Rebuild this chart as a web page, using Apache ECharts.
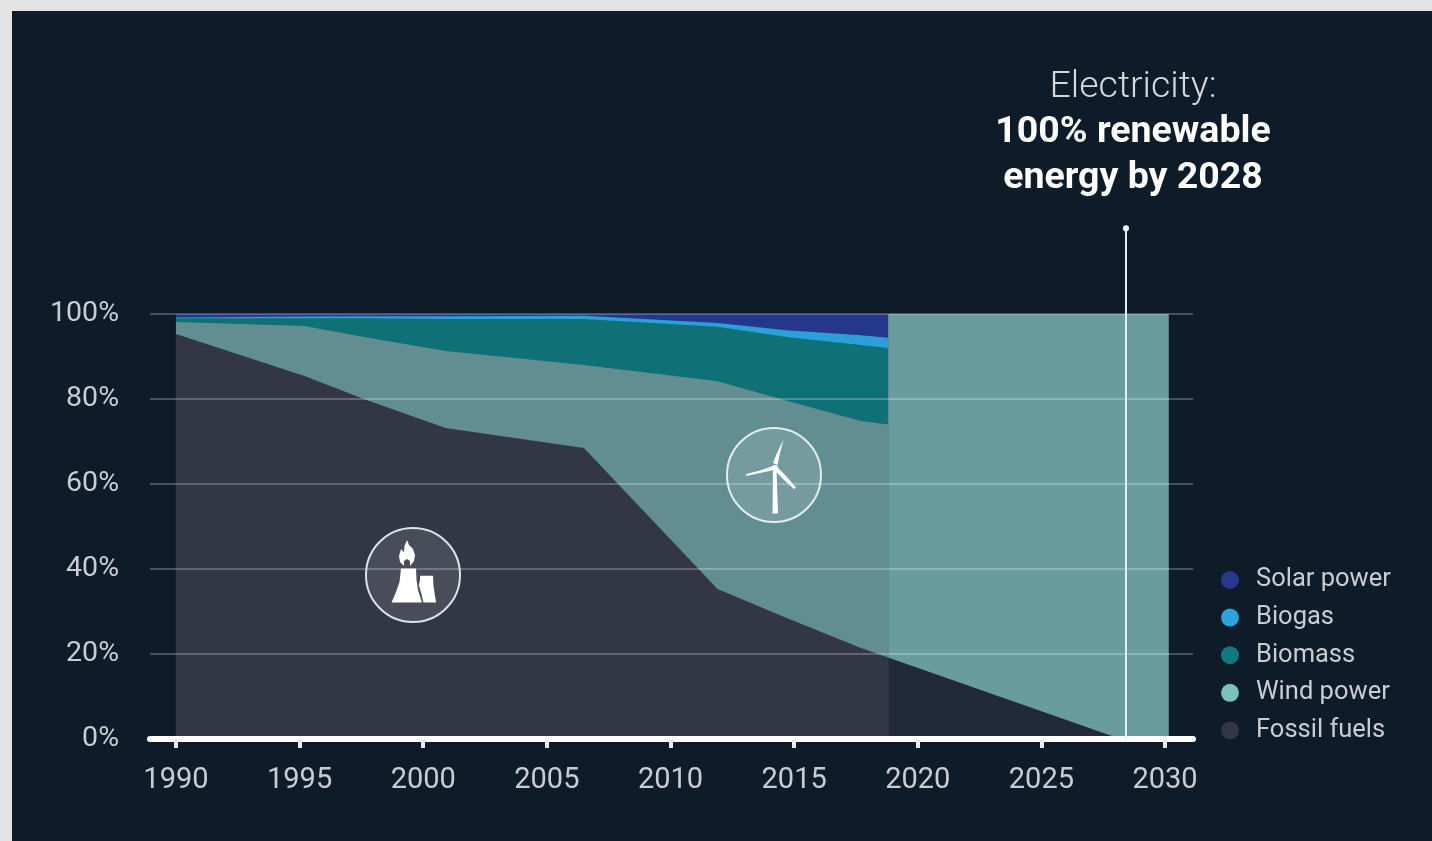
<!DOCTYPE html>
<html><head><meta charset="utf-8">
<style>
html,body{margin:0;padding:0;width:1432px;height:841px;background:#e4e4e4;overflow:hidden}
#panel{position:absolute;left:12px;top:11px;right:0;bottom:0;background:#0e1b28}
#chart{position:absolute;left:0;top:0;width:1432px;height:841px}
</style></head><body>
<div id="panel"></div><div id="chart"></div>
<script src="https://cdn.jsdelivr.net/npm/echarts@6/dist/echarts.min.js"></script>
<script>
const tickYears = [1990,1995,2000,2005,2010,2015,2020,2025,2030];
const historyYears = [1990,1995.2,1997.6,2000.9,2006.5,2011.9,2014.7,2017.7,2018.8];
const fossilHistory = [95.3,85.4,80,73.2,68.5,35.3,28.5,21.4,19.2];
const windHistory = [2.8,11.8,14.6,18.1,19.5,48.9,51.1,53.4,54.8];
const biomassHistory = [0.9,1.8,4.4,7.5,10.8,12.8,15,17.9,18];
const biogasHistory = [0.2,0.4,0.5,0.7,0.8,0.9,1.6,2.3,2.4];
const solarHistory = [0.8,0.6,0.5,0.5,0.4,2.1,3.8,5,5.6];
const futureYears = [2018.8,2023.3,2028.2,2030.15];
const fossilFuture = [19.2,10,0,0];
const windFuture = [80.8,90,100,100];
const targetYear = [2028.42,2028.42];
const targetValue = [0,120.2];
const legendNames = ['Solar power','Biogas','Biomass','Wind power','Fossil fuels'];
const legendColors = ['#26398f','#2ba3de','#0f7a7e','#7cc2ba','#333645'];

const font = 'Roboto';
// Running totals: each band is painted from the axis up to its cumulative top,
// tallest first, so the shares read as a stack on the numeric year axis.
const cumulate = layers => layers.map((_,k)=>layers[0].map((_,i)=>{
  let s = 0; for (let j=0;j<=k;j++) s += layers[j][i]; return +s.toFixed(2);
}));
const zipXY = (x,y) => x.map((v,i)=>[v,y[i]]);
const area = (name,x,y,color,z) => ({
  name, type:'line', data:zipXY(x,y), symbol:'none', showSymbol:false, z,
  lineStyle:{width:0}, itemStyle:{color}, areaStyle:{color,opacity:1}
});
const hist = cumulate([fossilHistory,windHistory,biomassHistory,biogasHistory,solarHistory]);
const fut = cumulate([fossilFuture,windFuture]);

const chart = echarts.init(document.getElementById('chart'));
chart.setOption({
  animation:false,
  backgroundColor:'transparent',
  title:{
    text:'Electricity:', left:1133, top:66, textAlign:'center', itemGap:0, padding:0,
    textStyle:{fontFamily:font,fontWeight:300,fontSize:37.5,color:'#d5d9dd',lineHeight:44},
    subtext:'100% renewable\nenergy by 2028',
    subtextStyle:{fontFamily:font,fontWeight:700,fontSize:37.5,color:'#ffffff',lineHeight:46,align:'center'}
  },
  grid:{left:150,top:314,width:1043,height:425,containLabel:false},
  xAxis:{
    type:'value', min:1988.95, max:2031.13, z:5,
    splitLine:{show:false},
    axisLine:{show:true,lineStyle:{color:'#ffffff',width:6}},
    axisTick:{show:true,length:9,customValues:tickYears,lineStyle:{color:'#e8ecee',width:4}},
    axisLabel:{show:true,customValues:tickYears,margin:27,fontFamily:font,fontSize:29,color:'#c9cdd3',
      formatter:v=>String(Math.round(v))}
  },
  yAxis:{
    type:'value', min:0, max:100, interval:20, z:4,
    axisLine:{show:false}, axisTick:{show:false},
    splitLine:{show:true,lineStyle:{color:'rgba(255,255,255,0.32)',width:1.5}},
    axisLabel:{margin:31,fontFamily:font,fontSize:28.5,color:'#c9cdd3',formatter:'{value}%'}
  },
  legend:{
    data:legendNames.map((n,i)=>({name:n,icon:'circle',itemStyle:{color:legendColors[i],opacity:1}})),
    orient:'vertical', left:1221, top:567, itemWidth:18, itemHeight:18, itemGap:11.6,
    selectedMode:false, padding:0,
    textStyle:{fontFamily:font,fontSize:25.5,color:'#c9cdd3',padding:[0,0,0,12],lineHeight:24}
  },
  series:[
    area('Solar power',historyYears,hist[4],'#25378a',2),
    area('Biogas',historyYears,hist[3],'#2a9fd8',2),
    area('Biomass',historyYears,hist[2],'#0f7176',2),
    area('Wind power',historyYears,hist[1],'#628e92',2),
    area('Fossil fuels',historyYears,hist[0],'#333645',2),
    area('Wind power',futureYears,fut[1],'#699c9f',2),
    area('Fossil fuels',futureYears,fut[0],'#222a3a',2),
    {
      type:'line', name:'2028 target', data:zipXY(targetYear,targetValue), clip:false, z:6,
      symbol:(v,p)=>p.dataIndex===1?'circle':'none', symbolSize:6, showSymbol:true,
      lineStyle:{color:'#dff1f1',width:2}, itemStyle:{color:'#ffffff'}
    }
  ],
  graphic:[
    {type:'circle',z:10,shape:{cx:413,cy:575,r:47},style:{fill:'rgba(255,255,255,0.11)',stroke:'#dfe3e6',lineWidth:2}},
    {type:'polygon',z:11,shape:{points:[[401,568.5],[416,568.5],[416.5,580],[418,590],[422,602.5],[391.5,602.5],[396,592],[399.5,582]]},style:{fill:'#ffffff'}},
    {type:'polygon',z:11,shape:{points:[[420,575.7],[433,575.7],[433.5,586],[436,602.5],[423.5,602.5],[421.5,594],[418.8,585],[420,580]]},style:{fill:'#ffffff'}},
    {type:'polygon',z:11,shape:{points:[[407,540],[409,545],[413,549],[415,555],[414,561],[410,566],[410,561],[407,559],[404,561],[404,566],[400,562],[399,556],[401,549],[404,552],[404.5,546]]},style:{fill:'#ffffff'}},
    {type:'circle',z:10,shape:{cx:774,cy:475,r:47},style:{fill:'rgba(255,255,255,0.12)',stroke:'#e3eeee',lineWidth:2}},
    {type:'polygon',z:11,shape:{points:[[773,470],[776.5,470],[778,513.5],[772.5,513.5]]},style:{fill:'#ffffff'}},
    {type:'polygon',z:11,shape:{points:[[773,463],[777,453],[783.5,439.5],[780,453],[777.5,465]]},style:{fill:'#ffffff'}},
    {type:'polygon',z:11,shape:{points:[[773,466],[774,470],[760,473],[746.5,476],[746,474],[760,470.5]]},style:{fill:'#ffffff'}},
    {type:'polygon',z:11,shape:{points:[[776,466],[786,476],[796,487.5],[794,489],[783,479],[774.5,470]]},style:{fill:'#ffffff'}},
    {type:'circle',z:12,shape:{cx:775,cy:468,r:3},style:{fill:'#ffffff'}}
  ]
});
</script></body></html>
